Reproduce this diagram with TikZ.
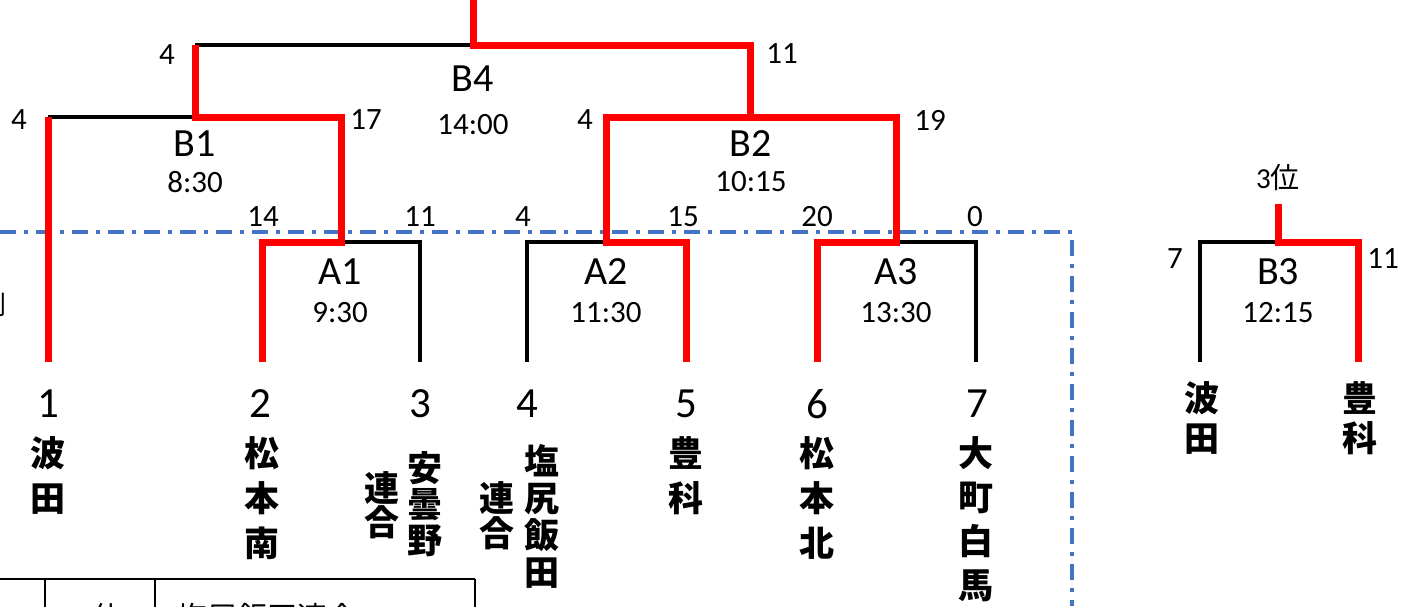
\documentclass[tikz,border=0pt]{standalone}
\usepackage{fontspec}
\setmainfont{Carlito}
\newfontfamily\cjk{Noto Sans CJK JP}
\newcommand\fsz[1]{\fontsize{#1}{#1}\selectfont}
\definecolor{grpblue}{HTML}{4472C4}

\begin{document}
\begin{tikzpicture}[
    x=1pt, y=-1pt,
    win/.style={red, line width=7pt},
    lose/.style={black, line width=3.5pt},
    score/.style={font=\fsz{31}, inner sep=0pt},
    match/.style={font=\fsz{40}, inner sep=0pt},
    time/.style={font=\fsz{31}, inner sep=0pt},
    seed/.style={font=\fsz{43}, inner sep=0pt},
    team/.style={font=\cjk\bfseries\fontsize{35}{#1}\selectfont, align=center, inner sep=0pt, anchor=north},
    team/.default=45,
    group/.style={grpblue, line width=3.5pt, dash pattern=on 16pt off 8pt on 4pt off 8pt},
    grid/.style={black, line width=2pt}
]
    \useasboundingbox (0,0) rectangle (1412,606);

    % Joints
    \coordinate (top4) at (473,0);
    \coordinate (B4) at (473,45);
    \coordinate (B1) at (195,117);
    \coordinate (B2) at (750,117);
    \coordinate (A1) at (341,242);
    \coordinate (A2) at (606,242);
    \coordinate (A3) at (896,242);
    \coordinate (t1) at (48,362);
    \coordinate (t2) at (262,362);
    \coordinate (t3) at (420,362);
    \coordinate (t4) at (527,362);
    \coordinate (t5) at (686,362);
    \coordinate (t6) at (817,362);
    \coordinate (t7) at (976,362);
    \coordinate (top3) at (1278,204);
    \coordinate (B3) at (1278,242);
    \coordinate (u1) at (1200,362);
    \coordinate (u2) at (1358,362);

    % Group frame
    \coordinate (g0) at (0,232);
    \coordinate (g1) at (1072,232);
    \coordinate (g2) at (1072,606);
    \draw[group] (g0) -- (g1) -- (g2);

    % Black lines
    \draw[lose] (B1 |- B4) -- (B4);
    \draw[lose] (t1 |- B1) -- (B1);
    \draw[lose] (A2 |- B2) -- (B2);
    \draw[lose] (A1) -- (t3 |- A1) -- (t3);
    \draw[lose] (A2) -- (t4 |- A2) -- (t4);
    \draw[lose] (A3) -- (t7 |- A3) -- (t7);
    \draw[lose] (B3) -- (u1 |- B3) -- (u1);

    % Red lines
    \draw[win] (top4) -- (B4) -| (B2) -| (A3) -| (t6);
    \draw[win] (B2) -| (A2) -| (t5);
    \draw[win] (B1 |- B4) -- (B1) -| (A1) -| (t2);
    \draw[win] (t1 |- B1) -- (t1);
    \draw[win] (top3) -- (B3) -| (u2);

    % Matches
    \node[match] (mB4) at (473,79) {B4};
    \node[time] (hB4) at (473,125) {14:00};
    \node[match] (mB1) at (195,144) {B1};
    \node[time] (hB1) at (195,182) {8:30};
    \node[match] (mB2) at (751,144) {B2};
    \node[time] (hB2) at (751,182) {10:15};
    \node[match] (mA1) at (340,272) {A1};
    \node[time] (hA1) at (340,313) {9:30};
    \node[match] (mA2) at (606,272) {A2};
    \node[time] (hA2) at (606,313) {11:30};
    \node[match] (mA3) at (896,272) {A3};
    \node[time] (hA3) at (896,313) {13:30};
    \node[match] (mB3) at (1278,272) {B3};
    \node[time] (hB3) at (1278,313) {12:15};
    \node[font=\fsz{29}, inner sep=0pt] (third) at (1278,177) {3{\cjk 位}};

    % Scores
    \node[score] (s1) at (167,55) {4};
    \node[score] (s2) at (782,54) {11};
    \node[score] (s3) at (19,120) {4};
    \node[score] (s4) at (366,120) {17};
    \node[score] (s5) at (585,120) {4};
    \node[score] (s6) at (930,120) {19};
    \node[score] (s7) at (263,217) {14};
    \node[score] (s8) at (420,217) {11};
    \node[score] (s9) at (523,217) {4};
    \node[score] (s10) at (683,217) {15};
    \node[score] (s11) at (817,217) {20};
    \node[score] (s12) at (975,217) {0};
    \node[score] (s13) at (1175,259) {7};
    \node[score] (s14) at (1383,259) {11};

    % Teams
    \node[seed] (n1) at (48,404) {1};
    \node[seed] (n2) at (260,404) {2};
    \node[seed] (n3) at (420,404) {3};
    \node[seed] (n4) at (527,404) {4};
    \node[seed] (n5) at (686,404) {5};
    \node[seed] (n6) at (817,404) {6};
    \node[seed] (n7) at (977,404) {7};
    \node[team] (team1) at (48,436) {波\\田};
    \node[team] (team2) at (262,436) {松\\本\\南};
    \node[team=36] (team3) at (425,451) {安\\曇\\野};
    \node[team=34] (team3b) at (382,471) {連\\合};
    \node[team=37] (team4) at (542,444) {塩\\尻\\飯\\田};
    \node[team=35] (team4b) at (497,481) {連\\合};
    \node[team] (team5) at (686,436) {豊\\科};
    \node[team] (team6) at (817,436) {松\\本\\北};
    \node[team=44] (team7) at (976,436) {大\\町\\白\\馬};
    \node[team=40] (team8) at (1202,381) {波\\田};
    \node[team=40] (team9) at (1360,381) {豊\\科};

    % Cut-off parts
    \node[font=\cjk\fsz{26}, inner sep=0pt] (cut) at (-6,305) {則};
    \draw[grid] (0,579) -- (475,579);
    \draw[grid] (45,579) -- (45,630);
    \draw[grid] (155,579) -- (155,630);
    \draw[grid] (475,579) -- (475,630);
    \node[font=\fsz{30}, inner sep=0pt] (rank5) at (100,617) {5{\cjk 位}};
    \node[font=\cjk\fsz{30}, inner sep=0pt, anchor=west] (name5) at (177,617) {塩尻飯田連合};
\end{tikzpicture}
\end{document}
